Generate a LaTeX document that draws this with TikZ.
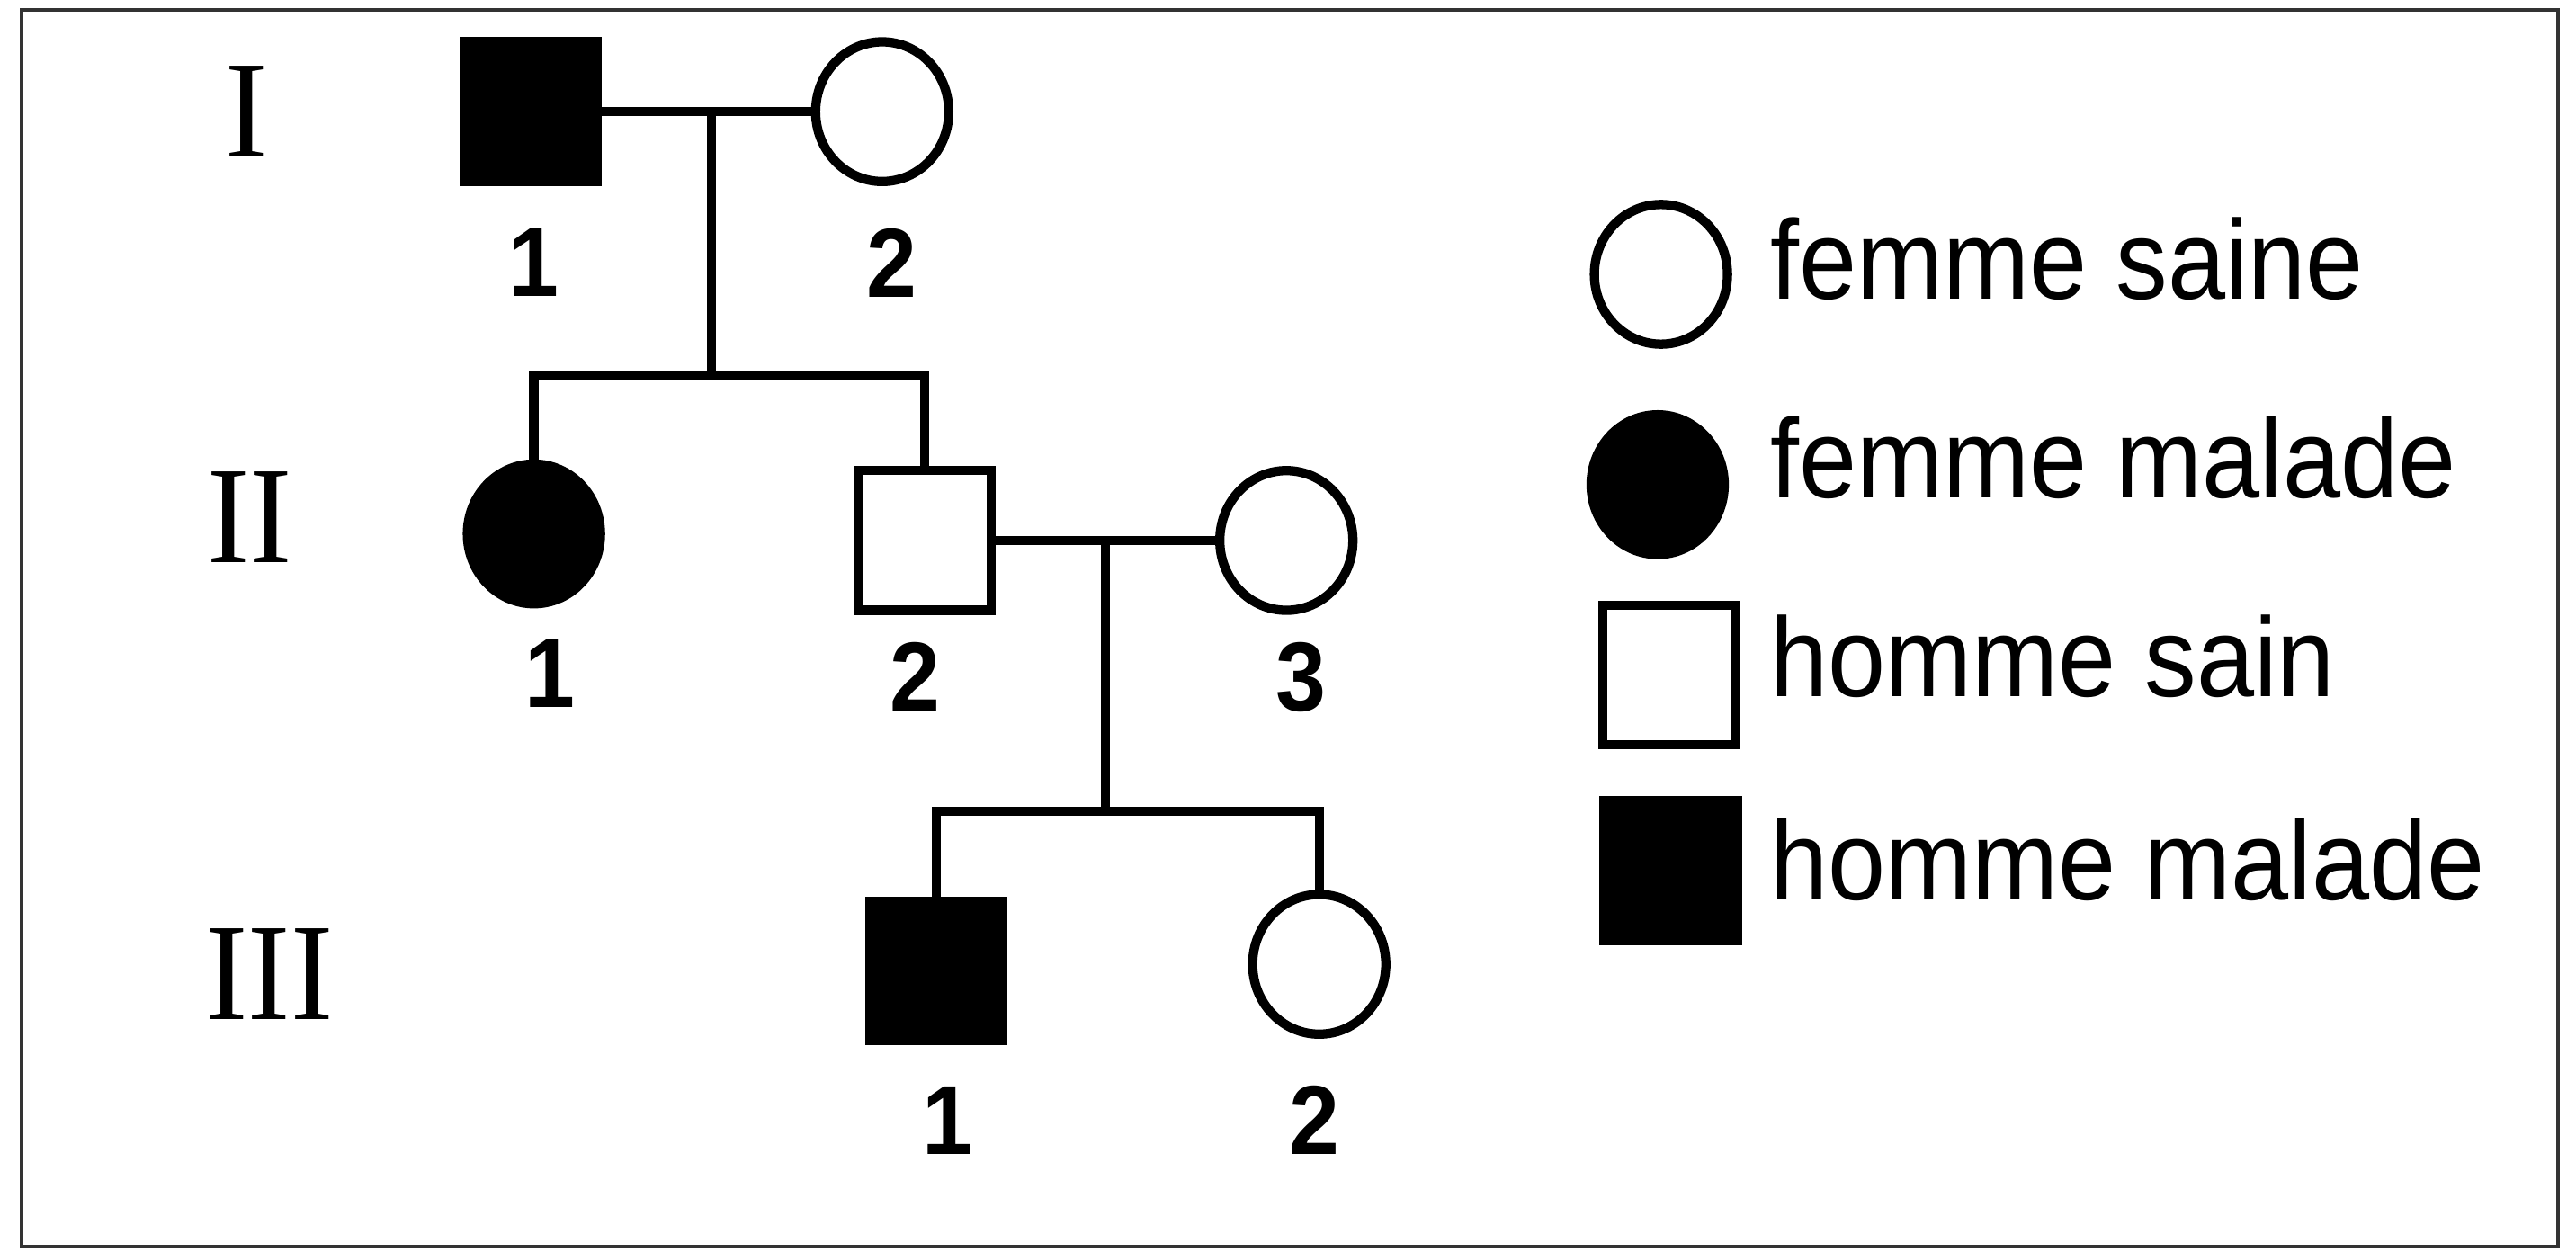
\documentclass[tikz,border=0pt]{standalone}
\usepackage{fontspec}
\usepackage{tikz}
\usetikzlibrary{shapes.geometric}

\newfontfamily\legendfont[FakeStretch=0.92]{Liberation Sans}
\newfontfamily\romanfont[FakeStretch=0.92]{Liberation Serif}

\tikzset{
    female/.style={draw, ellipse, line width=1.6pt, minimum width=0.81cm, minimum height=0.85cm, inner sep=0pt},
    male/.style={draw, rectangle, line width=1.6pt, minimum width=0.81cm, minimum height=0.85cm, inner sep=0pt},
    sick/.style={fill=black},
    link/.style={line width=1.6pt},
    num/.style={font=\legendfont\fontsize{17}{17}\selectfont\bfseries, inner sep=0pt},
    gen/.style={font=\romanfont\fontsize{24}{24}\selectfont, inner sep=0pt},
    legendtext/.style={font=\legendfont\fontsize{19.5}{19.5}\selectfont, anchor=base west, inner sep=0pt}
}

\begin{document}
\begin{tikzpicture}
    [x=0.01cm, y=-0.01cm]
    \useasboundingbox (0,0) rectangle (1568,762);
    \draw[line width=0.6pt, black!80] (13,6) rectangle (1557,759);

    % generations
    \node[gen] (genI) at (150,68) {I};
    \node[gen] (genII) at (152,315) {II};
    \node[gen] (genIII) at (164,593) {III};

    % generation I
    \node[male, sick] (I1) at (323,68) {};
    \node[female] (I2) at (537,68) {};
    \node[num] (nI1) at (325,160) {1};
    \node[num] (nI2) at (543,160) {2};
    \coordinate (mI) at (433,68);
    \coordinate (sI) at (433,229);
    \draw[link] (I1) -- (I2);
    \draw[link] (mI) -- (sI);

    % generation II
    \node[female, sick] (II1) at (325,325) {};
    \node[male] (II2) at (563,329) {};
    \node[female] (II3) at (783,329) {};
    \node[num] (nII1) at (335,410) {1};
    \node[num] (nII2) at (557,412) {2};
    \node[num] (nII3) at (792,412) {3};
    \draw[link] (II1) |- (sI) -| (II2);
    \coordinate (mII) at (673,329);
    \coordinate (sII) at (673,494);
    \draw[link] (II2) -- (II3);
    \draw[link] (mII) -- (sII);

    % generation III
    \node[male, sick] (III1) at (570,591) {};
    \node[female] (III2) at (803,587) {};
    \node[num] (nIII1) at (577,682) {1};
    \node[num] (nIII2) at (800,682) {2};
    \draw[link] (III1) |- (sII) -| (III2);

    % legend
    \node[female] (lf) at (1011,167) {};
    \node[female, sick] (lfs) at (1009,295) {};
    \node[male] (lm) at (1016,411) {};
    \node[male, sick] (lms) at (1017,530) {};
    \node[legendtext] (tf) at (1077,182) {femme saine};
    \node[legendtext] (tfs) at (1077,303) {femme malade};
    \node[legendtext] (tm) at (1077,424) {homme sain};
    \node[legendtext] (tms) at (1077,548) {homme malade};
\end{tikzpicture}
\end{document}
